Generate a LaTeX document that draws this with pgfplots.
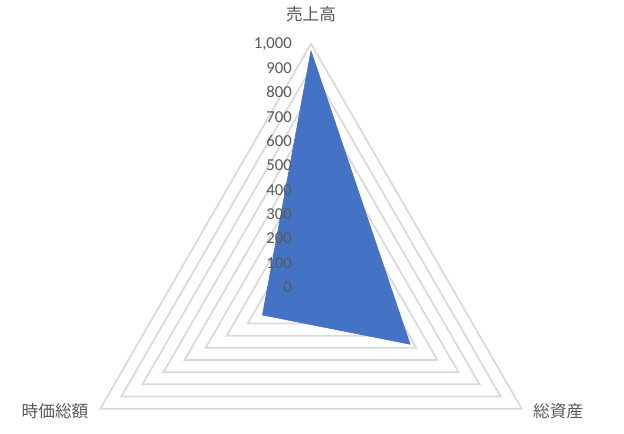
\documentclass[border=0pt]{standalone}
\usepackage{fontspec}
\setmainfont{Carlito}
\newfontfamily\jp{Noto Sans CJK JP}
\usepackage{pgfplots}
\pgfplotsset{compat=1.18}
\definecolor{fillblue}{HTML}{4472C4}
\definecolor{ringgray}{HTML}{D9D9D9}
\definecolor{txt}{HTML}{595959}
\begin{document}
\begin{tikzpicture}[x=0.75pt,y=0.75pt]
\begin{axis}[
  anchor=origin, at={(0,0)},
  x=0.18248pt, y=0.18248pt,
  xmin=-1100, xmax=1100, ymin=-600, ymax=1100,
  hide axis, clip=false,
]
\pgfplotsinvokeforeach{100,200,...,1000}{
  \addplot[ringgray, line width=1.3pt, line join=miter, data cs=polar, mark=none]
    coordinates {(90,#1) (-30,#1) (210,#1) (90,#1) (-30,#1)};
}
\addplot[fill=fillblue, draw=fillblue, line width=0.5pt, line join=miter, data cs=polar, mark=none]
  coordinates {(90,970) (-30,470) (210,230) (90,970)};
\pgfplotsinvokeforeach{0,100,...,900}{
  \node[anchor=east, inner sep=0pt, text=txt, font=\fontsize{12.5}{14}\selectfont] at (axis cs:-78,#1) {#1};
}
\node[anchor=east, inner sep=0pt, text=txt, font=\fontsize{12.5}{14}\selectfont] at (axis cs:-78,1000) {1,000};
\node[text=txt, inner sep=0pt, font=\jp\fontsize{12.5}{14}\selectfont] at (axis cs:0,1122) {売上高};
\node[text=txt, inner sep=0pt, font=\jp\fontsize{12.5}{14}\selectfont] at (axis cs:1016,-512) {総資産};
\node[text=txt, inner sep=0pt, font=\jp\fontsize{12.5}{14}\selectfont] at (axis cs:-1052,-512) {時価総額};
\end{axis}
\pgfresetboundingbox
\path[use as bounding box] (-311,-146) rectangle (313,287);
\end{tikzpicture}
\end{document}
